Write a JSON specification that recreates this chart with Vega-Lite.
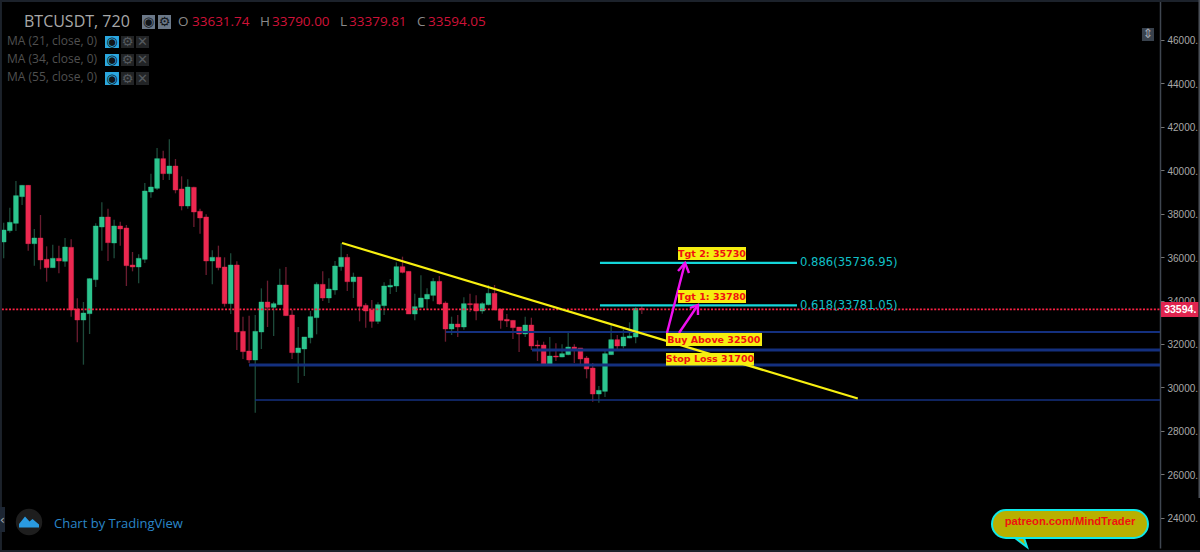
{
"$schema":"https://vega.github.io/schema/vega-lite/v6.json",
"width":1160,"height":548,
"autosize":{"type":"none"},
"padding":{"left":0,"top":0,"right":40,"bottom":4},
"background":"#000000",
"view":{"stroke":null},
"config":{"view":{"stroke":null}},
"datasets":{
"candles":[
{"x":0,"d":"up","o":36696,"h":37587,"l":35944,"c":37249},
{"x":1,"d":"up","o":37218,"h":38278,"l":37126,"c":37602},
{"x":2,"d":"up","o":37556,"h":39506,"l":37203,"c":38830},
{"x":3,"d":"up","o":38784,"h":39322,"l":38400,"c":39306},
{"x":4,"d":"down","o":39306,"h":39322,"l":36297,"c":36619},
{"x":5,"d":"up","o":36619,"h":37295,"l":35606,"c":36880},
{"x":6,"d":"down","o":36880,"h":37940,"l":35437,"c":35867},
{"x":7,"d":"down","o":35898,"h":36496,"l":34869,"c":35514},
{"x":8,"d":"up","o":35514,"h":36573,"l":35498,"c":35944},
{"x":9,"d":"down","o":35944,"h":36527,"l":35253,"c":35821},
{"x":10,"d":"up","o":35806,"h":36880,"l":35560,"c":36466},
{"x":11,"d":"down","o":36450,"h":36819,"l":33257,"c":33564},
{"x":12,"d":"down","o":33610,"h":34101,"l":32074,"c":33103},
{"x":13,"d":"up","o":33103,"h":33932,"l":31046,"c":33426},
{"x":14,"d":"up","o":33395,"h":35023,"l":32458,"c":35007},
{"x":15,"d":"up","o":34961,"h":37556,"l":34623,"c":37433},
{"x":16,"d":"up","o":37387,"h":38523,"l":36297,"c":37848},
{"x":17,"d":"down","o":37848,"h":38231,"l":35821,"c":36665},
{"x":18,"d":"up","o":36650,"h":37725,"l":35944,"c":37433},
{"x":19,"d":"down","o":37433,"h":37633,"l":36527,"c":37295},
{"x":20,"d":"down","o":37341,"h":37479,"l":34669,"c":35606},
{"x":21,"d":"down","o":35637,"h":36235,"l":35345,"c":35545},
{"x":22,"d":"up","o":35545,"h":36128,"l":34792,"c":35944},
{"x":23,"d":"up","o":35898,"h":39414,"l":35729,"c":39045},
{"x":24,"d":"up","o":38999,"h":39844,"l":38738,"c":39229},
{"x":25,"d":"up","o":39168,"h":41026,"l":39091,"c":40535},
{"x":26,"d":"down","o":40535,"h":40903,"l":39552,"c":39844},
{"x":27,"d":"up","o":39844,"h":41425,"l":39552,"c":40197},
{"x":28,"d":"down","o":40197,"h":40519,"l":38938,"c":39091},
{"x":29,"d":"down","o":39137,"h":39721,"l":38155,"c":38354},
{"x":30,"d":"up","o":38354,"h":39583,"l":38231,"c":39229},
{"x":31,"d":"down","o":39214,"h":39245,"l":37387,"c":38078},
{"x":32,"d":"down","o":38109,"h":38231,"l":37080,"c":37802},
{"x":33,"d":"down","o":37848,"h":37970,"l":35176,"c":35821},
{"x":34,"d":"up","o":35821,"h":36312,"l":34746,"c":35990},
{"x":35,"d":"down","o":35990,"h":36527,"l":35391,"c":35514},
{"x":36,"d":"down","o":35545,"h":35990,"l":33717,"c":33856},
{"x":37,"d":"up","o":33856,"h":36174,"l":33380,"c":35637},
{"x":38,"d":"down","o":35637,"h":35806,"l":31721,"c":32550},
{"x":39,"d":"down","o":32581,"h":33257,"l":31307,"c":31645},
{"x":40,"d":"down","o":31675,"h":33303,"l":31123,"c":31261},
{"x":41,"d":"up","o":31261,"h":33334,"l":28835,"c":32581},
{"x":42,"d":"up","o":32550,"h":34562,"l":31767,"c":33932},
{"x":43,"d":"down","o":33932,"h":34915,"l":32781,"c":33687},
{"x":44,"d":"up","o":33687,"h":33948,"l":32366,"c":33856},
{"x":45,"d":"up","o":33809,"h":35468,"l":33794,"c":34715},
{"x":46,"d":"down","o":34715,"h":35545,"l":33287,"c":33303},
{"x":47,"d":"down","o":33334,"h":33564,"l":31307,"c":31599},
{"x":48,"d":"up","o":31599,"h":32781,"l":30201,"c":31813},
{"x":49,"d":"up","o":31767,"h":32320,"l":30524,"c":32320},
{"x":50,"d":"up","o":32289,"h":33518,"l":32028,"c":33257},
{"x":51,"d":"up","o":33211,"h":34838,"l":32443,"c":34746},
{"x":52,"d":"down","o":34746,"h":35345,"l":33978,"c":34117},
{"x":53,"d":"up","o":34117,"h":35023,"l":33886,"c":34531},
{"x":54,"d":"up","o":34485,"h":35821,"l":34270,"c":35591},
{"x":55,"d":"up","o":35559,"h":36634,"l":35375,"c":35989},
{"x":56,"d":"down","o":35989,"h":36143,"l":34438,"c":34868},
{"x":57,"d":"up","o":34868,"h":35283,"l":34116,"c":35083},
{"x":58,"d":"down","o":35083,"h":35083,"l":33041,"c":33732},
{"x":59,"d":"down","o":33778,"h":33870,"l":32749,"c":33517},
{"x":60,"d":"down","o":33563,"h":34024,"l":32749,"c":33041},
{"x":61,"d":"up","o":33041,"h":33916,"l":32918,"c":33809},
{"x":62,"d":"up","o":33763,"h":34837,"l":33333,"c":34669},
{"x":63,"d":"up","o":34622,"h":34991,"l":34300,"c":34699},
{"x":64,"d":"up","o":34669,"h":35759,"l":34392,"c":35559},
{"x":65,"d":"down","o":35559,"h":36020,"l":35252,"c":35298},
{"x":66,"d":"down","o":35344,"h":35344,"l":33379,"c":33379},
{"x":67,"d":"up","o":33379,"h":34315,"l":33087,"c":33717},
{"x":68,"d":"up","o":33686,"h":35160,"l":33686,"c":34116},
{"x":69,"d":"up","o":34070,"h":34561,"l":33563,"c":34285},
{"x":70,"d":"up","o":34239,"h":35037,"l":33962,"c":34883},
{"x":71,"d":"down","o":34883,"h":35129,"l":33809,"c":33839},
{"x":72,"d":"down","o":33885,"h":33962,"l":32104,"c":32688},
{"x":73,"d":"up","o":32688,"h":33256,"l":32412,"c":32918},
{"x":74,"d":"down","o":32918,"h":33333,"l":32319,"c":32780},
{"x":75,"d":"up","o":32780,"h":34146,"l":32657,"c":33855},
{"x":76,"d":"down","o":33855,"h":34315,"l":33471,"c":33809},
{"x":77,"d":"down","o":33855,"h":34239,"l":33087,"c":33517},
{"x":78,"d":"up","o":33517,"h":33916,"l":33394,"c":33855},
{"x":79,"d":"up","o":33809,"h":34715,"l":33778,"c":34331},
{"x":80,"d":"down","o":34331,"h":34715,"l":33548,"c":33563},
{"x":81,"d":"down","o":33609,"h":33624,"l":32703,"c":33087},
{"x":82,"d":"down","o":33133,"h":33379,"l":32780,"c":33056},
{"x":83,"d":"down","o":33087,"h":33087,"l":32227,"c":32749},
{"x":84,"d":"down","o":32780,"h":32780,"l":31628,"c":32458},
{"x":85,"d":"up","o":32458,"h":33256,"l":32319,"c":32872},
{"x":86,"d":"down","o":32872,"h":33210,"l":31721,"c":31905},
{"x":87,"d":"down","o":31951,"h":32166,"l":31214,"c":31905},
{"x":88,"d":"down","o":31951,"h":32104,"l":31076,"c":31076},
{"x":89,"d":"up","o":31076,"h":32319,"l":31076,"c":31444},
{"x":90,"d":"down","o":31444,"h":32028,"l":31214,"c":31398},
{"x":91,"d":"up","o":31398,"h":31982,"l":31383,"c":31552},
{"x":92,"d":"up","o":31506,"h":32504,"l":31475,"c":31859},
{"x":93,"d":"down","o":31859,"h":31982,"l":31122,"c":31767},
{"x":94,"d":"down","o":31813,"h":31813,"l":31076,"c":31306},
{"x":95,"d":"down","o":31352,"h":31444,"l":30415,"c":30845},
{"x":96,"d":"down","o":30891,"h":31122,"l":29341,"c":29694},
{"x":97,"d":"up","o":29694,"h":30062,"l":29295,"c":29863},
{"x":98,"d":"up","o":29817,"h":31705,"l":29556,"c":31552},
{"x":99,"d":"up","o":31506,"h":32934,"l":31490,"c":32197},
{"x":100,"d":"down","o":32197,"h":32412,"l":31767,"c":31905},
{"x":101,"d":"up","o":31905,"h":32703,"l":31797,"c":32319},
{"x":102,"d":"up","o":32273,"h":32995,"l":32258,"c":32365},
{"x":103,"d":"up","o":32319,"h":33686,"l":32028,"c":33632},
{"x":104,"d":"down","o":33632,"h":33790,"l":33380,"c":33594}
],
"levels":[
{"x":72.09,"x2":188.45,"y":32550,"k":"navy2"},
{"x":86.1,"x2":188.45,"y":31720,"k":"navy3"},
{"x":39.98,"x2":188.45,"y":31030,"k":"navy3"},
{"x":40.96,"x2":188.45,"y":29417,"k":"navy1"},
{"x":97.18,"x2":129.29,"y":35737,"k":"fib"},
{"x":97.18,"x2":129.29,"y":33781,"k":"fib"},
{"x":-0.3,"x2":188.45,"y":33594,"k":"last"}
],
"lines":[
{"g":"trend","n":0,"x":55.14,"y":36650},
{"g":"trend","n":1,"x":139.2,"y":29487}
],
"arrows":[
{"g":"a1","n":0,"x":108.1,"y":32504},
{"g":"a1","n":1,"x":111.04,"y":35729},
{"g":"h1","n":0,"x":109.9,"y":35360},
{"g":"h1","n":1,"x":111.04,"y":35729},
{"g":"h1","n":2,"x":111.69,"y":35268},
{"g":"a2","n":0,"x":110.06,"y":32504},
{"g":"a2","n":1,"x":113.15,"y":33794},
{"g":"h2","n":0,"x":111.85,"y":33656},
{"g":"h2","n":1,"x":113.15,"y":33794},
{"g":"h2","n":2,"x":113.15,"y":33334}
],
"boxes":[
{"k":"frame","x":-0.6,"x2":195,"y":47842,"y2":47750},
{"k":"frame","x":-0.6,"x2":-0.28,"y":47842,"y2":22463},
{"k":"frame","x":-0.6,"x2":195,"y":22510,"y2":22420},
{"k":"scroll","x":194.72,"x2":195,"y":47842,"y2":24900},
{"k":"tab","x":-0.6,"x2":0.22,"y":24490,"y2":23338},
{"k":"slate","x":22.54,"x2":24.66,"y":47151,"y2":46507},
{"k":"slate","x":25.15,"x2":27.27,"y":47151,"y2":46507},
{"k":"on","x":16.51,"x2":18.79,"y":46184,"y2":45632},
{"k":"off","x":19.12,"x2":21.24,"y":46184,"y2":45632},
{"k":"off","x":21.57,"x2":23.69,"y":46184,"y2":45632},
{"k":"on","x":16.51,"x2":18.79,"y":45355,"y2":44802},
{"k":"off","x":19.12,"x2":21.24,"y":45355,"y2":44802},
{"k":"off","x":21.57,"x2":23.69,"y":45355,"y2":44802},
{"k":"on","x":16.51,"x2":18.79,"y":44526,"y2":43927},
{"k":"off","x":19.12,"x2":21.24,"y":44526,"y2":43927},
{"k":"off","x":21.57,"x2":23.69,"y":44526,"y2":43927},
{"k":"corner","x":185.51,"x2":187.47,"y":46553,"y2":45954},
{"k":"tag","x":188.61,"x2":194.7,"y":33932,"y2":33241},
{"k":"note","x":109.9,"x2":120.98,"y":36466,"y2":35867},
{"k":"note","x":109.9,"x2":120.98,"y":34485,"y2":33886},
{"k":"note","x":107.94,"x2":123.59,"y":32504,"y2":31906},
{"k":"note","x":107.94,"x2":122.28,"y":31583,"y2":31008}
],
"texts":[
{"s":"title","x":3.31,"y":46835,"t":"BTCUSDT, 720"},
{"s":"ohlcKey","x":28.41,"y":46835,"t":"O"},
{"s":"ohlcVal","x":30.69,"y":46835,"t":"33631.74"},
{"s":"ohlcKey","x":41.77,"y":46835,"t":"H"},
{"s":"ohlcVal","x":43.73,"y":46835,"t":"33790.00"},
{"s":"ohlcKey","x":54.81,"y":46835,"t":"L"},
{"s":"ohlcVal","x":56.28,"y":46835,"t":"33379.81"},
{"s":"ohlcKey","x":67.36,"y":46835,"t":"C"},
{"s":"ohlcVal","x":69.16,"y":46835,"t":"33594.05"},
{"s":"ma","x":0.54,"y":45960,"t":"MA (21, close, 0)"},
{"s":"ma","x":0.54,"y":45125,"t":"MA (34, close, 0)"},
{"s":"ma","x":0.54,"y":44296,"t":"MA (55, close, 0)"},
{"s":"fib","x":129.78,"y":35725,"t":"0.886(35736.95)"},
{"s":"fib","x":129.78,"y":33755,"t":"0.618(33781.05)"},
{"s":"brand","x":8.2,"y":23720,"t":"Chart by TradingView"}
],
"glyphs":[
{"s":"dark","x":23.6,"y":46829,"t":"◉"},
{"s":"dark","x":26.21,"y":46829,"t":"⚙"},
{"s":"dark","x":17.65,"y":45908,"t":"◉"},
{"s":"dim","x":20.18,"y":45908,"t":"⚙"},
{"s":"dim","x":22.63,"y":45908,"t":"✕"},
{"s":"dark","x":17.65,"y":45078,"t":"◉"},
{"s":"dim","x":20.18,"y":45078,"t":"⚙"},
{"s":"dim","x":22.63,"y":45078,"t":"✕"},
{"s":"dark","x":17.65,"y":44226,"t":"◉"},
{"s":"dim","x":20.18,"y":44226,"t":"⚙"},
{"s":"dim","x":22.63,"y":44226,"t":"✕"},
{"s":"light","x":186.49,"y":46253,"t":"⇕"},
{"s":"light","x":-0.2,"y":23914,"t":"‹"}
],
"notes":[
{"x":115.44,"y":36166,"t":"Tgt 2: 35730"},
{"x":115.44,"y":34185,"t":"Tgt 1: 33780"},
{"x":115.73,"y":32205,"t":"Buy Above 32500"},
{"x":115.11,"y":31295,"t":"Stop Loss 31700"}
],
"badge":[{"x":4.13,"y":23799}],
"bubble":[{"x":161.07,"x2":186.49,"y":24352,"y2":23062,"tx":173.78,"ty":23800,"t":"patreon.com/MindTrader","tailx":165.8,"taily":22855}],
"tagtext":[{"x":191.75,"y":33560,"t":"33594."}]
},
"data":{"name":"candles"},
"encoding":{
"x":{"field":"x","type":"quantitative","scale":{"domain":[-0.598,188.45],"nice":false,"zero":false,"padding":0},"axis":null},
"y":{"field":"y","type":"quantitative","title":null,"scale":{"domain":[22602,47842],"nice":false,"zero":false,"padding":0},
 "axis":{"orient":"right","values":[24000,26000,28000,30000,32000,34000,36000,38000,40000,42000,44000,46000],"labelExpr":"format(datum.value,'d')+'.'","grid":false,"domainColor":"#3f4650","domainWidth":1.5,"tickColor":"#777777","tickSize":4,"labelPadding":3,"labelColor":"#a8a8a8","labelFont":"Liberation Sans","labelFontSize":10,"labelOffset":1,"labelBound":false,"labelOverlap":false,"zindex":0}}
},
"resolve":{"scale":{"color":"independent"}},
"layer":[
{"data":{"name":"candles"},"mark":{"type":"rule","strokeWidth":1.3},
 "encoding":{"y":{"field":"h","type":"quantitative","scale":{"domain":[22602,47842],"nice":false,"zero":false,"padding":0}},"y2":{"field":"l"},
 "color":{"field":"d","type":"nominal","legend":null,"scale":{"domain":["up","down"],"range":["#1d4a3a","#6b1c30"]}}}},
{"data":{"name":"candles"},"mark":{"type":"bar","size":4.8,"strokeWidth":0.4},
 "encoding":{"y":{"field":"o","type":"quantitative","scale":{"domain":[22602,47842],"nice":false,"zero":false,"padding":0}},"y2":{"field":"c"},
 "color":{"field":"d","type":"nominal","legend":null,"scale":{"domain":["up","down"],"range":["#2cc48e","#ec2850"]}},
 "stroke":{"field":"d","type":"nominal","legend":null,"scale":{"domain":["up","down"],"range":["#2cc48e","#ec2850"]}}}},
{"data":{"name":"levels"},"transform":[{"filter":"datum.k=='navy1'"}],"mark":{"type":"rule","color":"#14307f","strokeWidth":1.5},"encoding":{"x2":{"field":"x2"}}},
{"data":{"name":"levels"},"transform":[{"filter":"datum.k=='navy2'"}],"mark":{"type":"rule","color":"#14307f","strokeWidth":2},"encoding":{"x2":{"field":"x2"}}},
{"data":{"name":"levels"},"transform":[{"filter":"datum.k=='navy3'"}],"mark":{"type":"rule","color":"#14307f","strokeWidth":3},"encoding":{"x2":{"field":"x2"}}},
{"data":{"name":"levels"},"transform":[{"filter":"datum.k=='last'"}],"mark":{"type":"rule","color":"#ff2245","strokeWidth":1.6,"strokeDash":[2,1.6]},"encoding":{"x2":{"field":"x2"}}},
{"data":{"name":"lines"},"mark":{"type":"line","color":"#f8f010","strokeWidth":2.2},"encoding":{"detail":{"field":"g"},"order":{"field":"n"}}},
{"data":{"name":"levels"},"transform":[{"filter":"datum.k=='fib'"}],"mark":{"type":"rule","color":"#14d6da","strokeWidth":2.3},"encoding":{"x2":{"field":"x2"}}},
{"data":{"name":"arrows"},"mark":{"type":"line","color":"#f010f0","strokeWidth":2.4},"encoding":{"detail":{"field":"g"},"order":{"field":"n"}}},
{"data":{"name":"boxes"},"mark":{"type":"rect"},
 "encoding":{"x2":{"field":"x2"},"y2":{"field":"y2"},
 "color":{"field":"k","type":"nominal","legend":null,"scale":{"domain":["frame","scroll","tab","slate","on","off","corner","tag","note"],"range":["#1c222b","#4a4f57","#1d2633","#6b7888","#2aa7e0","#222426","#39424d","#e0244f","#f5ee10"]}}}},
{"data":{"name":"badge"},"mark":{"type":"point","filled":true,"shape":"circle","size":700,"color":"#1e1e1e","opacity":1}},
{"data":{"name":"badge"},"mark":{"type":"point","filled":true,"size":400,"color":"#2a9ae0","opacity":1,"shape":"M-1,0.55 L-1,0.2 L-0.4,-0.55 L0.05,-0.05 L0.35,-0.3 L1,0.25 L1,0.55 Z"}},
{"data":{"name":"bubble"},"mark":{"type":"point","filled":true,"size":144,"fill":"#b8b000","stroke":"#10e8e8","strokeWidth":2,"opacity":1,"shape":"M-1,-0.75 L1,0.75 L0.5,-0.75 Z"},"encoding":{"x":{"field":"tailx","type":"quantitative","scale":{"domain":[-0.598,188.45],"nice":false,"zero":false,"padding":0}},"y":{"field":"taily","type":"quantitative","scale":{"domain":[22602,47842],"nice":false,"zero":false,"padding":0}}}},
{"data":{"name":"bubble"},"mark":{"type":"rect","fill":"#b8b000","stroke":"#10e8e8","strokeWidth":2,"cornerRadius":14},"encoding":{"x2":{"field":"x2"},"y2":{"field":"y2"}}},
{"data":{"name":"bubble"},"mark":{"type":"text","font":"Liberation Sans","fontWeight":"bold","fontSize":11.2,"color":"#f01010","align":"center","baseline":"middle"},"encoding":{"x":{"field":"tx","type":"quantitative","scale":{"domain":[-0.598,188.45],"nice":false,"zero":false,"padding":0}},"y":{"field":"ty","type":"quantitative","scale":{"domain":[22602,47842],"nice":false,"zero":false,"padding":0}},"text":{"field":"t"}}},
{"data":{"name":"tagtext"},"mark":{"type":"text","font":"Liberation Sans","fontWeight":"bold","fontSize":10.5,"color":"#ffffff","align":"center","baseline":"middle"},"encoding":{"text":{"field":"t"}}},
{"data":{"name":"notes"},"mark":{"type":"text","font":"DejaVu Sans","fontWeight":"bold","fontSize":9.5,"color":"#f01010","align":"center","baseline":"middle"},"encoding":{"text":{"field":"t"}}},
{"data":{"name":"texts"},"transform":[{"filter":"datum.s=='title'"}],"mark":{"type":"text","font":"Open Sans","fontSize":16,"color":"#a8a8a8","align":"left","baseline":"middle"},"encoding":{"text":{"field":"t"}}},
{"data":{"name":"texts"},"transform":[{"filter":"datum.s=='ohlcKey'"}],"mark":{"type":"text","font":"Open Sans","fontSize":13.5,"color":"#8a8a8a","align":"left","baseline":"middle"},"encoding":{"text":{"field":"t"}}},
{"data":{"name":"texts"},"transform":[{"filter":"datum.s=='ohlcVal'"}],"mark":{"type":"text","font":"Open Sans","fontSize":13.5,"color":"#cf1238","align":"left","baseline":"middle"},"encoding":{"text":{"field":"t"}}},
{"data":{"name":"texts"},"transform":[{"filter":"datum.s=='ma'"}],"mark":{"type":"text","font":"Open Sans","fontSize":12,"color":"#505050","align":"left","baseline":"middle"},"encoding":{"text":{"field":"t"}}},
{"data":{"name":"texts"},"transform":[{"filter":"datum.s=='fib'"}],"mark":{"type":"text","font":"DejaVu Sans","fontSize":11.6,"color":"#10c0c8","align":"left","baseline":"middle"},"encoding":{"text":{"field":"t"}}},
{"data":{"name":"texts"},"transform":[{"filter":"datum.s=='brand'"}],"mark":{"type":"text","font":"Open Sans","fontSize":13,"color":"#2a86c8","align":"left","baseline":"middle"},"encoding":{"text":{"field":"t"}}},
{"data":{"name":"glyphs"},"transform":[{"filter":"datum.s=='dark'"}],"mark":{"type":"text","font":"DejaVu Sans","fontSize":13,"color":"#101418","align":"center","baseline":"middle"},"encoding":{"text":{"field":"t"}}},
{"data":{"name":"glyphs"},"transform":[{"filter":"datum.s=='dim'"}],"mark":{"type":"text","font":"DejaVu Sans","fontSize":13,"color":"#555a5f","align":"center","baseline":"middle"},"encoding":{"text":{"field":"t"}}},
{"data":{"name":"glyphs"},"transform":[{"filter":"datum.s=='light'"}],"mark":{"type":"text","font":"DejaVu Sans","fontSize":13,"color":"#a0a6ad","align":"center","baseline":"middle"},"encoding":{"text":{"field":"t"}}}
]
}
